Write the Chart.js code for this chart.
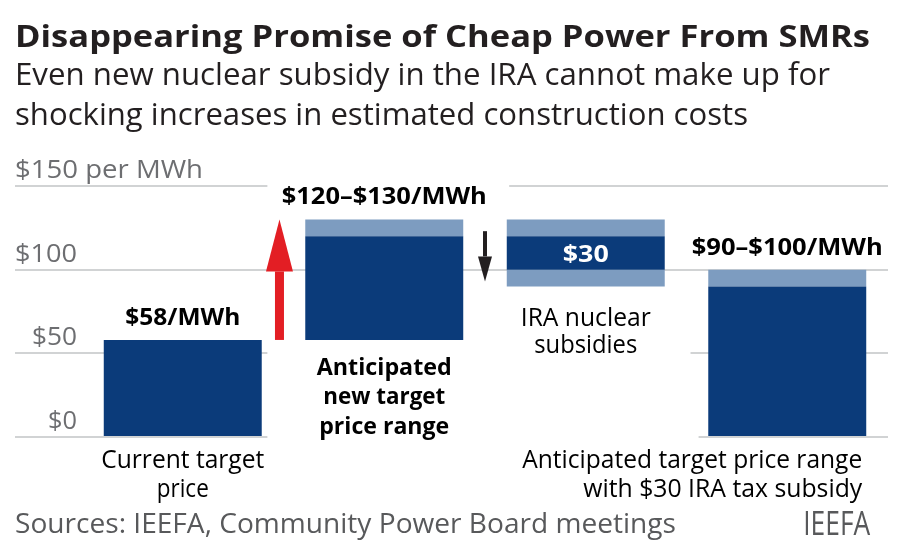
<!DOCTYPE html>
<html>
<head>
<meta charset="utf-8">
<script src="https://cdn.jsdelivr.net/npm/chart.js@4.4.1/dist/chart.umd.min.js"></script>
<style>
body { margin: 0; background: #fff; }
#wrap { position: relative; width: 900px; height: 550px; overflow: hidden; font-family: "Open Sans", sans-serif; color: #231f20; }
#wrap canvas { position: absolute; left: 0; top: 0; }
.txt { position: absolute; white-space: nowrap; line-height: 1; }
.left { left: 15px; transform-origin: 0 0; }
.right { right: 30px; transform-origin: 100% 0; }
</style>
</head>
<body>
<div id="wrap">
  <canvas id="chart" width="900" height="550"></canvas>
  <div class="txt left" data-w="855" style="font-weight:700;font-size:31px;top:20px">Disappearing Promise of Cheap Power From SMRs</div>
  <div class="txt left" data-w="815" style="font-size:31px;top:58px">Even new nuclear subsidy in the IRA cannot make up for</div>
  <div class="txt left" data-w="733" style="font-size:31px;top:98px">shocking increases in estimated construction costs</div>
  <div class="txt left" data-w="661" style="font-size:28px;top:508px;color:#58595b">Sources: IEEFA, Community Power Board meetings</div>
  <div class="txt right" data-w="67" style="font-size:32px;top:507px;color:#58595b">IEEFA</div>
</div>
<script>
const categories = ["Current target price", "Anticipated new target price range", "IRA nuclear subsidies", "Anticipated target price range with $30 IRA tax subsidy"];
const categoryLines = [["Current target", "price"], ["Anticipated", "new target", "price range"], ["IRA nuclear", "subsidies"], ["Anticipated target price range", "with $30 IRA tax subsidy"]];

// floating bars [from, to] in $/MWh
const solidPart = [[0, 58], [58, 120], [100, 120], [0, 90]];
const rangeTop = [null, [120, 130], [120, 130], [90, 100]];
const rangeBottom = [null, null, [90, 100], null];
const valueLabels = ["$58/MWh", "$120–$130/MWh", "$30", "$90–$100/MWh"];

const yTicks = [0, 50, 100, 150];
const yTickLabels = ["$0", "$50", "$100", "$150"];
const yUnit = " per MWh";

// arrows [from, to] in $/MWh, placed between bars (category index)
const costArrow = { at: 0.48, from: 58, to: 130 };
const subsidyArrow = { at: 1.5, from: 123, to: 93 };

const DARK = "#0b3b7a";
const LIGHT = "#7d9cc0";
const GRID = "#d1d3d4";

// gridline gaps behind the labels, in category units
const gridBreaks = [
    { v: 150, from: 0.42, to: 1.62 },
    { v: 50, from: 0.42, to: 2.52 },
    { v: 0, from: 0.42, to: 2.56 }
];

// squeeze text to the width it has in the original
function fitText(ctx, text, x, y, w, align) {
    const m = ctx.measureText(text).width;
    ctx.save();
    ctx.translate(x, y);
    ctx.scale(w / m, 1);
    ctx.textAlign = align;
    ctx.fillText(text, 0, 0);
    ctx.restore();
}

function drawArrow(ctx, x, y0, y1, shaft, headW, headL, color) {
    const dir = y1 < y0 ? -1 : 1;
    const neck = y1 - dir * headL;
    ctx.fillStyle = color;
    ctx.fillRect(x - shaft / 2, Math.min(y0, neck), shaft, Math.abs(neck - y0));
    ctx.beginPath();
    ctx.moveTo(x - headW / 2, neck);
    ctx.lineTo(x + headW / 2, neck);
    ctx.lineTo(x, y1);
    ctx.closePath();
    ctx.fill();
}

const annotate = {
    id: "annotate",
    beforeDatasetsDraw(chart) {
        const { ctx, scales: { x, y } } = chart;
        ctx.save();
        ctx.fillStyle = "#fff";
        gridBreaks.forEach(b => {
            const x0 = x.getPixelForValue(b.from);
            const x1 = x.getPixelForValue(b.to);
            ctx.fillRect(x0, y.getPixelForValue(b.v) - 3, x1 - x0, 6);
        });
        ctx.restore();
    },
    afterDatasetsDraw(chart) {
        const { ctx, chartArea, scales: { x, y } } = chart;
        const bars = chart.getDatasetMeta(0).data;
        ctx.save();
        ctx.textBaseline = "alphabetic";

        drawArrow(ctx, x.getPixelForValue(costArrow.at), y.getPixelForValue(costArrow.from), y.getPixelForValue(costArrow.to), 9, 27, 52, "#e31e24");
        drawArrow(ctx, x.getPixelForValue(subsidyArrow.at), y.getPixelForValue(subsidyArrow.from), y.getPixelForValue(subsidyArrow.to), 4, 14, 25, "#231f20");

        // y tick labels sit just above their gridline
        ctx.fillStyle = "#6d6e71";
        ctx.font = "400 25px 'Open Sans'";
        const tickW = [29, 45, 62, 188];
        yTicks.forEach((v, i) => {
            const py = y.getPixelForValue(v) - 8;
            if (i === yTicks.length - 1) {
                fitText(ctx, yTickLabels[i] + yUnit, chartArea.left - 67, py, tickW[i], "left");
            } else {
                fitText(ctx, yTickLabels[i], chartArea.left - 5, py, tickW[i], "right");
            }
        });

        // value labels
        const valW = [115, 205, 46, 191];
        ctx.font = "700 24px 'Open Sans'";
        valueLabels.forEach((t, i) => {
            const top = Math.max(...[solidPart[i], rangeTop[i]].filter(Boolean).map(r => r[1]));
            if (i === 2) {
                ctx.fillStyle = "#fff";
                const mid = (solidPart[i][0] + solidPart[i][1]) / 2;
                fitText(ctx, t, bars[i].x, y.getPixelForValue(mid) + 9, valW[i], "center");
            } else {
                ctx.fillStyle = "#000";
                fitText(ctx, t, bars[i].x, y.getPixelForValue(top) - 15, valW[i], "center");
            }
        });

        // category labels
        ctx.fillStyle = "#000";
        const catW = [[163, 52], [135, 122, 130], [130, 103], [340, 279]];
        categoryLines.forEach((lines, i) => {
            const bottom = Math.min(...[solidPart[i], rangeBottom[i]].filter(Boolean).map(r => r[0]));
            const base = y.getPixelForValue(bottom);
            lines.forEach((ln, j) => {
                if (i === 1) {
                    ctx.font = "700 24px 'Open Sans'";
                    fitText(ctx, ln, bars[i].x, base + 35 + j * 29.5, catW[i][j], "center");
                } else if (i === 2) {
                    ctx.font = "400 26px 'Open Sans'";
                    fitText(ctx, ln, bars[i].x, base + 40 + j * 27, catW[i][j], "center");
                } else if (i === 3) {
                    ctx.font = "400 25px 'Open Sans'";
                    fitText(ctx, ln, bars[i].x + bars[i].width / 2 - 4, base + 31 + j * 29, catW[i][j], "right");
                } else {
                    ctx.font = "400 25px 'Open Sans'";
                    fitText(ctx, ln, bars[i].x, base + 31 + j * 29, catW[i][j], "center");
                }
            });
        });
        ctx.restore();
    }
};

new Chart(document.getElementById("chart"), {
    type: "bar",
    data: {
        labels: categories,
        datasets: [
            { data: solidPart, backgroundColor: DARK },
            { data: rangeTop, backgroundColor: LIGHT },
            { data: rangeBottom, backgroundColor: LIGHT }
        ]
    },
    options: {
        responsive: false,
        animation: false,
        devicePixelRatio: 1,
        layout: { padding: { top: 186, bottom: 113, left: 15, right: 12 } },
        datasets: {
            bar: { grouped: false, barPercentage: 0.784, categoryPercentage: 1, borderWidth: 0, borderSkipped: false }
        },
        plugins: { legend: { display: false }, tooltip: { enabled: false } },
        scales: {
            x: { display: false },
            y: {
                min: 0,
                max: 150,
                afterBuildTicks: s => { s.ticks = yTicks.map(v => ({ value: v })); },
                ticks: { display: false },
                border: { display: false },
                grid: { color: GRID, lineWidth: 2, tickLength: 67 }
            }
        }
    },
    plugins: [annotate]
});

document.querySelectorAll("[data-w]").forEach(el => {
    const w = el.getBoundingClientRect().width;
    el.style.transform = `scaleX(${el.dataset.w / w})`;
});
</script>
</body>
</html>
